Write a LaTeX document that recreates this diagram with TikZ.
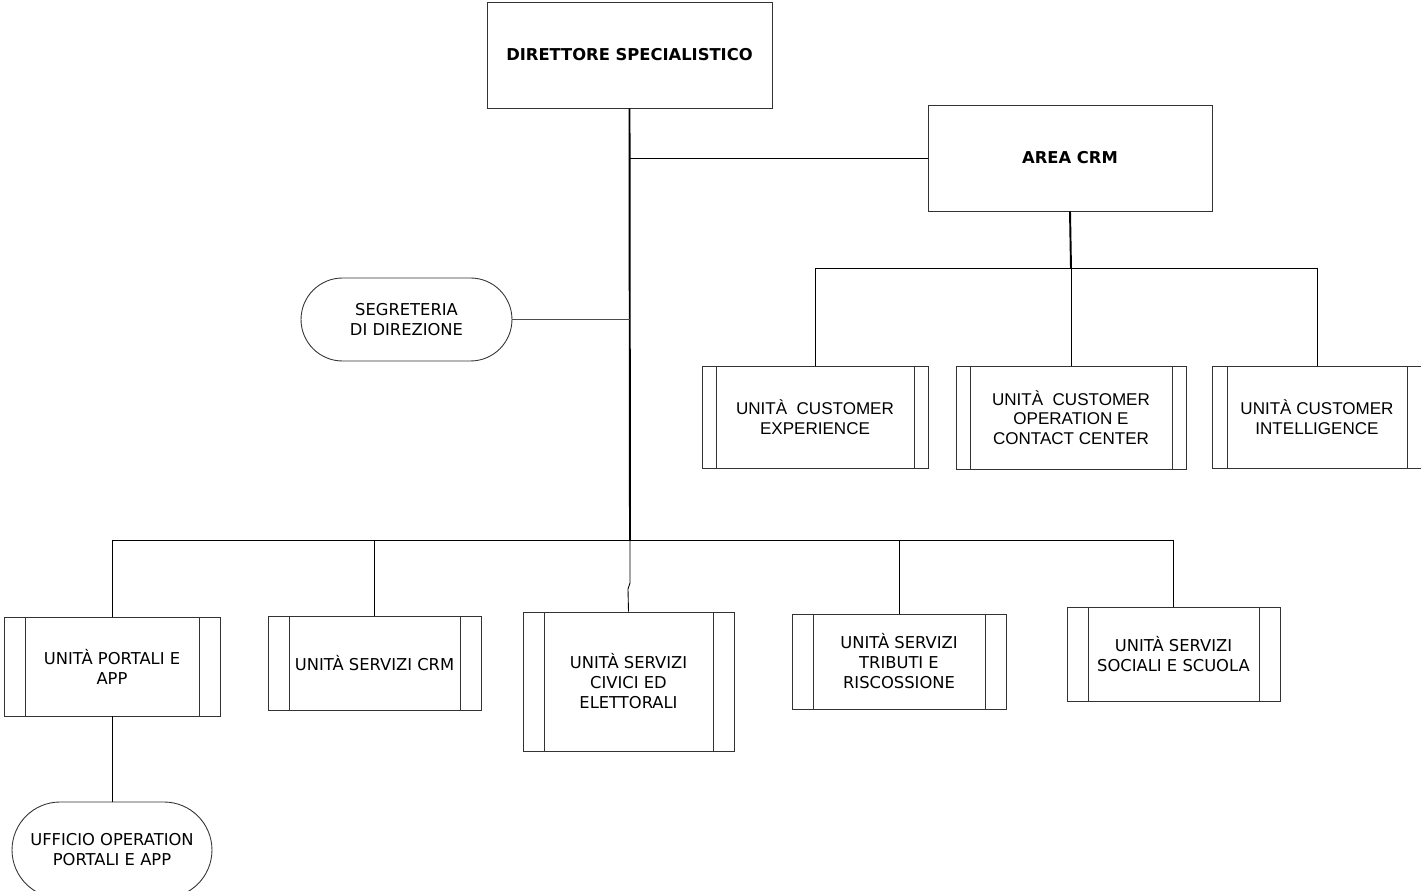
\documentclass[tikz,border=0pt]{standalone}
\usepackage{fontspec}
\usetikzlibrary{shapes.misc}
\newfontfamily\tahfont{DejaVu Sans}
\newfontfamily\arialfont{Liberation Sans}

\begin{document}
\begin{tikzpicture}[%
    x=0.02cm,
    y=-0.02cm,
    line width=0.5pt,
    bar/.store in=\barw,
    bar=0.42cm,
    trunk/.style={line width=1.1pt},
    head/.style={%
      rectangle,
      draw=black!80,
      inner sep=0pt,
      font=\tahfont\bfseries\fontsize{9.3}{11}\selectfont
    },
    unit/.style={%
      rectangle,
      draw=black!80,
      inner sep=0pt,
      align=center,
      font=\tahfont\fontsize{9.3}{11.4}\selectfont,
      path picture={%
        \draw[black!80] ([xshift=\barw]path picture bounding box.north west) -- ([xshift=\barw]path picture bounding box.south west)
                        ([xshift=-\barw]path picture bounding box.north east) -- ([xshift=-\barw]path picture bounding box.south east);
      }
    },
    cust/.style={%
      unit,
      bar=0.28cm,
      font=\arialfont\fontsize{9.7}{11.2}\selectfont
    },
    office/.style={%
      rounded rectangle,
      draw=black!80,
      inner sep=0pt,
      align=center,
      font=\tahfont\fontsize{9.3}{11.4}\selectfont
    }
  ]
    \useasboundingbox (0,0) rectangle (1421,891);
    \clip (0,0) rectangle (1421,891);

    \node[head, minimum width=5.7cm, minimum height=2.12cm] (dir) at (629.5,55) {DIRETTORE SPECIALISTICO};
    \node[head, minimum width=5.68cm, minimum height=2.12cm] (crm) at (1070,158) {AREA CRM};
    \node[office, minimum width=4.22cm, minimum height=1.66cm] (seg) at (406.5,319.5) {SEGRETERIA\\DI DIREZIONE};

    \node[cust, minimum width=4.52cm, minimum height=2.04cm] (cx) at (815,417) {UNITÀ~ CUSTOMER\\EXPERIENCE};
    \node[cust, minimum width=4.6cm, minimum height=2.06cm] (cocc) at (1071,417.5) {UNITÀ~ CUSTOMER\\OPERATION E\\CONTACT CENTER};
    \node[cust, bar=0.3cm, minimum width=4.2cm, minimum height=2.04cm] (ci) at (1317,417) {UNITÀ CUSTOMER\\INTELLIGENCE};

    \node[unit, minimum width=4.32cm, minimum height=1.98cm] (port) at (112,666.5) {UNITÀ PORTALI E\\APP};
    \node[unit, minimum width=4.26cm, minimum height=1.88cm] (scrm) at (374.5,663) {UNITÀ SERVIZI CRM};
    \node[unit, minimum width=4.22cm, minimum height=2.78cm] (civ) at (628.5,681.5) {UNITÀ SERVIZI\\CIVICI ED\\ELETTORALI};
    \node[unit, minimum width=4.28cm, minimum height=1.9cm] (trib) at (899,661.5) {UNITÀ SERVIZI\\TRIBUTI E\\RISCOSSIONE};
    \node[unit, minimum width=4.26cm, minimum height=1.88cm] (soc) at (1173.5,654) {UNITÀ SERVIZI\\SOCIALI E SCUOLA};
    \node[office, minimum width=4cm, minimum height=1.92cm] (uff) at (112,850) {UFFICIO OPERATION\\PORTALI E APP};

    \coordinate (busb) at (630,540);
    \coordinate (busc) at (1071,268);

    % tronco principale
    \draw[trunk] (dir.south) -- (busb);
    \draw (dir.south |- crm.west) -- (crm.west);
    \draw[black!70] (seg.east) -- (seg.east -| dir.south);

    % area crm
    \draw[trunk] (crm.south) -- (busc);
    \draw (cx.north |- busc) -- (ci.north |- busc);
    \foreach \n in {cx,cocc,ci}
      \draw (\n.north |- busc) -- (\n.north);

    % unita
    \draw (port.north |- busb) -- (soc.north |- busb);
    \foreach \n in {port,scrm,trib,soc}
      \draw (\n.north |- busb) -- (\n.north);
    \draw (busb) -- ++(0,43) -- ++(-2,6) -- (civ.north);
    \draw (port.south) -- (uff.north);
\end{tikzpicture}
\end{document}
